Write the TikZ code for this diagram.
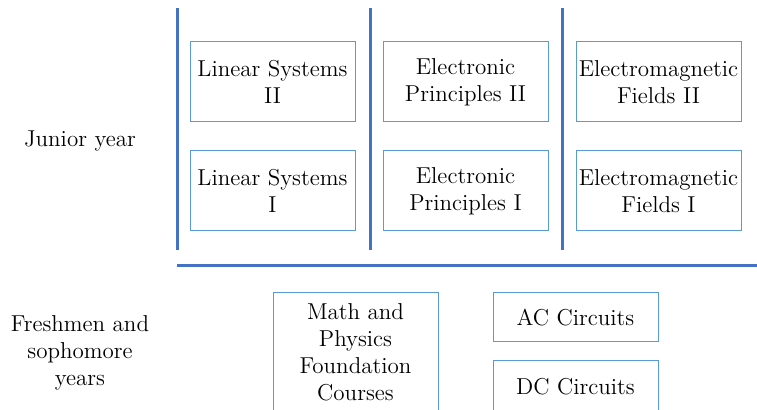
\documentclass[tikz,border=0pt]{standalone}
\usepackage{xcolor}
\usetikzlibrary{positioning}

\definecolor{boxblue}{RGB}{91,155,213}
\definecolor{lineblue}{RGB}{68,114,196}

\begin{document}
\begin{tikzpicture}[x=0.5pt, y=-0.5pt,
    course/.style={draw=boxblue, line width=0.5pt, fill=white, minimum width=82.5pt, minimum height=40pt, inner sep=0pt, align=center, font=\fontsize{11.5}{13.5}\selectfont},
    yearlabel/.style={align=center, font=\fontsize{11.5}{13.5}\selectfont},
    sep/.style={draw=lineblue, line width=1.5pt}]

    \clip (0,0) rectangle (757,410);

    % separators
    \draw[sep] (177,8) -- (177,250);
    \draw[sep] (370,8) -- (370,250);
    \draw[sep] (562,8) -- (562,250);
    \draw[sep] (177,266) -- (757,266);

    % Junior year
    \node[yearlabel] (junior) at (80,141) {Junior year};

    \node[course] (ls2) at (272.5,82) {Linear Systems\\II};
    \node[course, below=14pt of ls2] (ls1) {Linear Systems\\I};

    \node[course] (ep2) at (465.5,82) {Electronic\\Principles II};
    \node[course, below=14pt of ep2] (ep1) {Electronic\\Principles I};

    \node[course] (ef2) at (658.5,82) {Electromagnetic\\Fields II};
    \node[course, below=14pt of ef2] (ef1) {Electromagnetic\\Fields I};

    % Freshmen and sophomore years
    \node[yearlabel] (fresh) at (80,353) {Freshmen and\\sophomore\\years};

    \node[course, minimum height=60pt] (math) at (355.5,352.5) {Math and\\Physics\\Foundation\\Courses};
    \node[course, minimum height=24.5pt] (ac) at (575.5,317.5) {AC Circuits};
    \node[course, minimum height=26pt] (dc) at (575.5,387) {DC Circuits};

\end{tikzpicture}
\end{document}
